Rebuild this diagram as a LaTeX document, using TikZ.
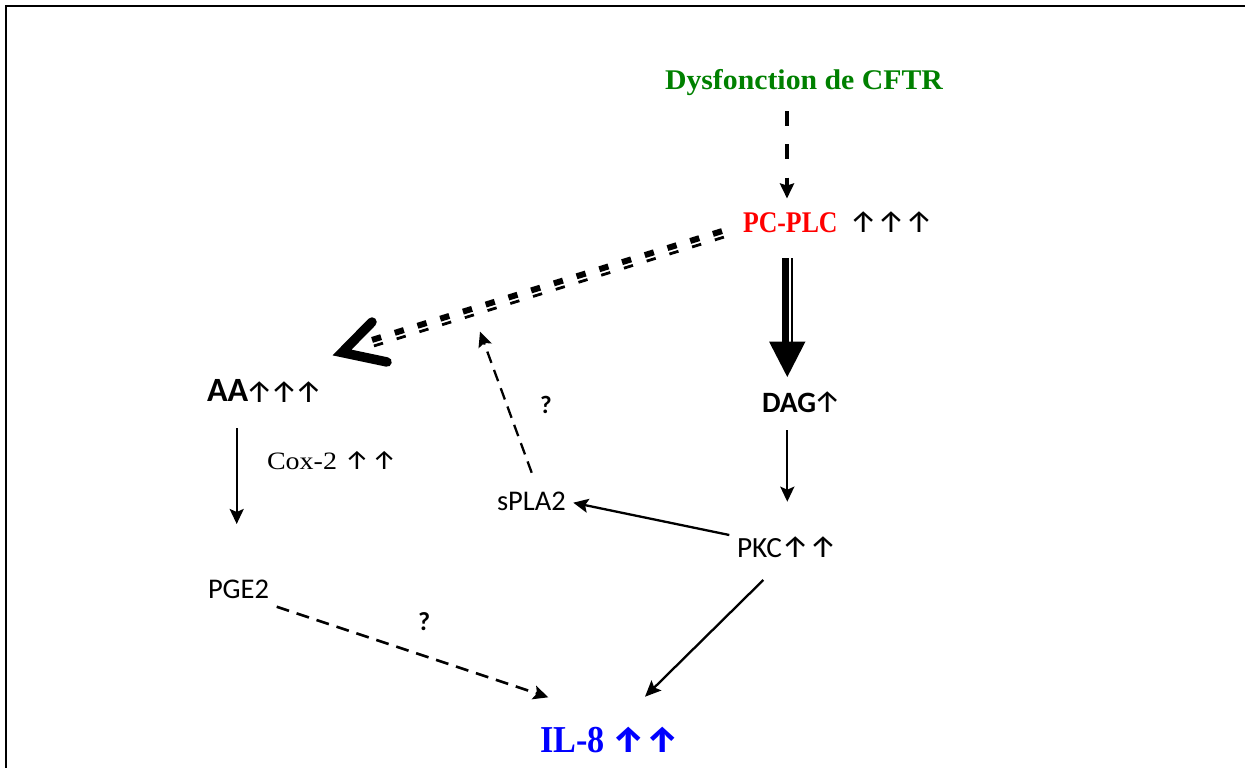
\documentclass[tikz,border=0pt]{standalone}
\usepackage{fontspec}
\setmainfont{Liberation Serif}
\newfontfamily\calfont{Carlito}
\newfontfamily\arrfont{Fira Sans}
\usetikzlibrary{arrows.meta}
\definecolor{cfgreen}{RGB}{0,128,0}
\definecolor{cfred}{RGB}{255,0,0}
\definecolor{cfblue}{RGB}{0,0,255}
\tikzset{
  lbl/.style={anchor=base west, inner sep=0pt, outer sep=0pt},
  conn/.style={line width=2.3pt, -{Stealth[length=15pt,width=14pt,inset=3pt]}},
  dconn/.style={conn, dash pattern=on 12pt off 7.5pt},
  sans/.style={lbl, font=\calfont\fontsize{28.5}{30}\selectfont},
  arrtxt/.style={lbl, font=\arrfont\fontsize{31}{33}\selectfont},
}
\begin{document}
\begin{tikzpicture}[x=1pt,y=-1pt]
\useasboundingbox (0,0) rectangle (1245,768);
% frame (top and left edges)
\draw[line width=2pt] (6,768) -- (6,6) -- (1245,6);

% labels
\node[lbl, text=cfgreen, font=\bfseries\fontsize{28.5}{30}\selectfont] (cftr) at (665,89) {\scalebox{1.045}[1]{Dysfonction de CFTR}};
\node[lbl, text=cfred, font=\bfseries\fontsize{30}{32}\selectfont] (pcplc) at (743,232) {\scalebox{0.86}[1]{PC-PLC}};
\node[arrtxt] (pcplcup) at (849.3,232.5) {↑↑↑};
\node[lbl, font=\calfont\bfseries\fontsize{29.5}{31}\selectfont] (dag) at (762,412) {DAG};
\node[arrtxt] (dagup) at (813.3,412.5) {↑};
\node[lbl, font=\calfont\fontsize{29.3}{31}\selectfont] (pkc) at (737,557) {PKC};
\node[arrtxt] (pkcup) at (781.3,557.5) {↑↑};
\node[sans] (spla) at (497,510) {sPLA2};
\node[lbl, font=\calfont\bfseries\fontsize{34}{36}\selectfont] (aa) at (207,401.7) {AA};
\node[arrtxt] (aaup) at (245.3,402.2) {↑\kern-3.2pt↑\kern-3.2pt↑};
\node[lbl, font=\fontsize{25}{27}\selectfont] (cox) at (267,469) {\scalebox{1.12}[1]{Cox-2}};
\node[lbl, font=\arrfont\fontsize{27}{29}\selectfont] (coxup) at (344.8,469.5) {↑\kern3pt↑};
\node[sans] (pge) at (208,598) {PGE2};
\node[lbl, text=cfblue, font=\bfseries\fontsize{38}{40}\selectfont] (il8) at (540,752.7) {\scalebox{0.9}[1]{IL-8}};
\node[lbl, text=cfblue, font=\arrfont\bfseries\fontsize{36}{38}\selectfont] (il8up) at (612.7,752.7) {↑\kern1.5pt↑};
\node[lbl, font=\calfont\bfseries\fontsize{25}{27}\selectfont] (q1) at (540,413) {?};
\node[lbl, font=\calfont\bfseries\fontsize{26}{28}\selectfont] (q2) at (418,630) {?};

% connector end points
\coordinate (c1s) at (787,111);
\coordinate (c1e) at (787,198.5);
\coordinate (ddS) at (722,231.1);
\coordinate (ddE) at (368,341.2);
\coordinate (chevT) at (342,352.5);
\coordinate (chevA) at (372,322);
\coordinate (chevB) at (387,362);
\coordinate (tkS) at (785.5,258);
\coordinate (tkE) at (785.5,345);
\coordinate (tnS) at (792,258);
\coordinate (tnE) at (792,345);
\coordinate (triL) at (769,341.5);
\coordinate (triR) at (805.5,341.5);
\coordinate (triT) at (787.3,377);
\coordinate (dagS) at (787.3,430);
\coordinate (pkcE) at (787.3,501.7);
\coordinate (pkcS) at (729.3,535);
\coordinate (splaE) at (573.3,502.7);
\coordinate (splaS) at (531.7,472.7);
\coordinate (aaLineE) at (480,331.7);
\coordinate (aaS) at (236.7,428.3);
\coordinate (pgeE) at (236.7,524);
\coordinate (pgeS) at (276.7,606.7);
\coordinate (ilE1) at (548.3,697.3);
\coordinate (pkcS2) at (763.3,580);
\coordinate (ilE2) at (645,696.7);

% CFTR -> PC-PLC (thick dashed)
\draw[line width=4pt, dash pattern=on 15pt off 18.3pt, -{Stealth[length=15pt,width=14pt,inset=2pt]}] (c1s) -- (c1e);

% PC-PLC -> AA (double dashed, thick over thin) with chevron head
\draw[line width=6pt, dash pattern=on 9.5pt off 14.3pt] (ddS) -- (ddE);
\draw[line width=2.8pt, dash pattern=on 9.5pt off 14.3pt] ([shift={(1.9,6)}]ddS) -- ([shift={(1.9,6)}]ddE);
\draw[line width=9.5pt, line cap=round, line join=miter] (chevA) -- (chevT) -- (chevB);

% PC-PLC -> DAG (thick + thin, big triangle head)
\draw[line width=7.6pt] (tkS) -- (tkE);
\draw[line width=2.3pt] (tnS) -- (tnE);
\fill (triL) -- (triR) -- (triT) -- cycle;

% DAG -> PKC
\draw[conn] (dagS) -- (pkcE);
% PKC -> sPLA2
\draw[conn] (pkcS) -- (splaE);
% sPLA2 -> AA line (dashed)
\draw[dconn] (splaS) -- (aaLineE);
% AA -> PGE2
\draw[conn] (aaS) -- (pgeE);
% PGE2 -> IL-8 (dashed)
\draw[conn, line width=2.6pt, dash pattern=on 13pt off 8pt] (pgeS) -- (ilE1);
% PKC -> IL-8
\draw[conn, -{Stealth[length=16pt,width=14pt,inset=3pt]}] (pkcS2) -- (ilE2);
\end{tikzpicture}
\end{document}
